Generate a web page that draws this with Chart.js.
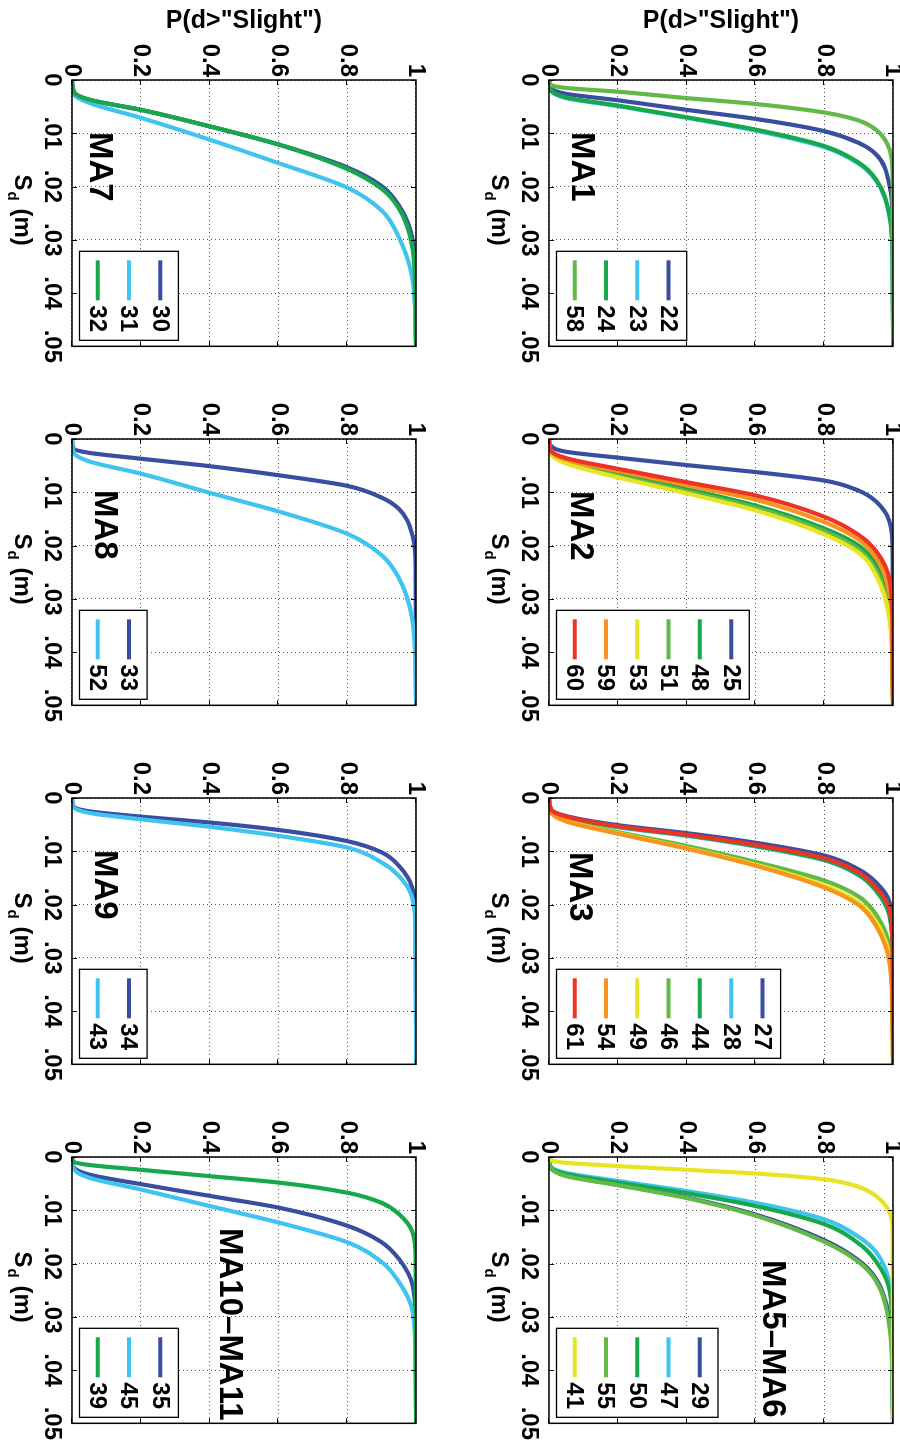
<!DOCTYPE html>
<html>
<head>
<meta charset="utf-8">
<script src="https://cdn.jsdelivr.net/npm/chart.js@4.4.1/dist/chart.umd.min.js"></script>
<style>
  html, body { margin: 0; padding: 0; background: #fff; }
  body { width: 900px; height: 1446px; overflow: hidden; position: relative; }
  /* the figure is drawn upright (1446x900) and turned a quarter clockwise */
  #figure { position: absolute; left: 0; top: 0; width: 1446px; height: 900px;
            transform-origin: 0 0; transform: translate(900px, 0) rotate(90deg); }
  #figure canvas { position: absolute; }
</style>
</head>
<body>
<div id="figure"></div>
<script>
// probability levels, and for every curve the Sd (m) where it reaches them
const pLevels = [0, 0.005, 0.05, 0.2, 0.4, 0.6, 0.8, 0.9, 0.95, 0.99, 0.999, 1];

// MA1
const sd22 = [0, .0015, .0026, .0038, .0056, .0073, .0096, .0118, .0139, .0198, .027, .05];
const sd23 = [0, .0019, .0034, .0049, .0071, .0095, .0126, .0157, .0188, .0257, .0345, .05];
const sd24 = [0, .0019, .0033, .0048, .0070, .0093, .0124, .0155, .0186, .0254, .034, .05];
const sd58 = [0, .0009, .0015, .0022, .0034, .0045, .0061, .0076, .0093, .0130, .018, .05];
// MA2
const sd25 = [0, .0012, .0024, .0035, .0049, .0062, .0078, .0097, .0117, .0155, .021, .05];
const sd48 = [0, .0025, .0043, .0066, .0094, .0125, .0168, .0200, .0235, .032, .042, .05];
const sd51 = [0, .0026, .0045, .0069, .0098, .0129, .0173, .0207, .0245, .033, .044, .05];
const sd53 = [0, .0027, .0046, .0072, .0102, .0134, .0179, .0213, .0255, .034, .046, .05];
const sd59 = [0, .0023, .0039, .0060, .0087, .0114, .0156, .0189, .0222, .029, .038, .05];
const sd60 = [0, .0021, .0036, .0056, .0081, .0106, .0146, .0180, .0210, .0265, .036, .05];
// MA3
const sd27 = [0, .0021, .0034, .0051, .0066, .0084, .0108, .0134, .0158, .0195, .027, .05];
const sd28 = [0, .0022, .0036, .0055, .0071, .0091, .0117, .0145, .0174, .0222, .030, .05];
const sd44 = [0, .0022, .0036, .0054, .0070, .0090, .0116, .0144, .0173, .0220, .030, .05];
const sd46 = [0, .0025, .0042, .0064, .0090, .0120, .0155, .0185, .0218, .028, .038, .05];
const sd49 = [0, .0026, .0043, .0066, .0094, .0125, .0164, .0196, .0231, .030, .040, .05];
const sd54 = [0, .0026, .0044, .0067, .0095, .0127, .0168, .0201, .0239, .031, .042, .05];
const sd61 = [0, .0021, .0035, .0053, .0069, .0088, .0113, .0140, .0167, .0210, .029, .05];
// MA5-MA6
const sd29 = [0, .0020, .0035, .0052, .0076, .0108, .0156, .0194, .0228, .031, .042, .05];
const sd47 = [0, .0018, .0030, .0045, .0064, .0086, .0117, .0150, .0178, .0235, .031, .05];
const sd50 = [0, .0019, .0032, .0048, .0068, .0092, .0126, .0162, .0195, .025, .034, .05];
const sd55 = [0, .0020, .0036, .0053, .0077, .0110, .0159, .0197, .0232, .032, .043, .05];
const sd41 = [0, .0006, .0011, .0017, .0024, .0031, .0042, .0056, .0073, .0104, .014, .05];
// MA7
const sd30 = [0, .0022, .0037, .0056, .0087, .0121, .0164, .0199, .0235, .030, .040, .05];
const sd31 = [0, .0027, .0043, .0071, .0112, .0156, .0202, .0245, .0295, .0375, .048, .05];
const sd32 = [0, .0022, .0037, .0056, .0087, .0121, .0167, .0204, .0241, .0316, .042, .05];
// MA8
const sd33 = [0, .0018, .0026, .0037, .0051, .0068, .0088, .0110, .0131, .0181, .024, .05];
const sd52 = [0, .0026, .0042, .0065, .0101, .0136, .0178, .0218, .0261, .0342, .045, .05];
// MA9
const sd34 = [0, .0016, .0025, .0035, .0046, .0060, .0081, .0102, .0127, .0170, .023, .05];
const sd43 = [0, .0017, .0028, .0040, .0054, .0071, .0093, .0121, .0146, .0189, .026, .05];
// MA10-MA11
const sd35 = [0, .0019, .0033, .0051, .0073, .0095, .0129, .0160, .0191, .0240, .032, .05];
const sd45 = [0, .0022, .0039, .0061, .0092, .0123, .0160, .0197, .0234, .0290, .039, .05];
const sd39 = [0, .0009, .0015, .0024, .0036, .0048, .0067, .0086, .0107, .0141, .019, .05];

const panelNames = ['MA1', 'MA2', 'MA3', 'MA5\u2013MA6', 'MA7', 'MA8', 'MA9', 'MA10\u2013MA11'];
const panelLabels = [
  ['22', '23', '24', '58'],
  ['25', '48', '51', '53', '59', '60'],
  ['27', '28', '44', '46', '49', '54', '61'],
  ['29', '47', '50', '55', '41'],
  ['30', '31', '32'],
  ['33', '52'],
  ['34', '43'],
  ['35', '45', '39']
];
const panelData = [
  [sd22, sd23, sd24, sd58],
  [sd25, sd48, sd51, sd53, sd59, sd60],
  [sd27, sd28, sd44, sd46, sd49, sd54, sd61],
  [sd29, sd47, sd50, sd55, sd41],
  [sd30, sd31, sd32],
  [sd33, sd52],
  [sd34, sd43],
  [sd35, sd45, sd39]
];
const xTickLabels = ['0', '.01', '.02', '.03', '.04', '.05'];
const yTickLabels = ['0', '0.2', '0.4', '0.6', '0.8', '1'];
const yTitle = 'P(d>"Slight")';

// styles
const colors = { blue: '#3a4ea0', cyan: '#3fc3ef', green: '#17a84c', lgreen: '#63b947',
                 yellow: '#e7e424', orange: '#f7941e', red: '#ee3224' };
const panelColors = [
  ['blue', 'cyan', 'green', 'lgreen'],
  ['blue', 'green', 'lgreen', 'yellow', 'orange', 'red'],
  ['blue', 'cyan', 'green', 'lgreen', 'yellow', 'orange', 'red'],
  ['blue', 'cyan', 'green', 'lgreen', 'yellow'],
  ['blue', 'cyan', 'green'],
  ['blue', 'cyan'],
  ['blue', 'cyan'],
  ['blue', 'cyan', 'green']
];
const FONT = '"Liberation Sans", Arial, Helvetica, sans-serif';
const plotLeft = [80, 439, 798, 1157], plotTop = [7, 484], plotW = 269, plotH = 344;
const labelPos = [[52, 321], [52, 322], [54, 323], [103, 130], [52, 326], [51, 321], [52, 321], [71, 196]];

Chart.defaults.font.family = FONT;
Chart.defaults.color = '#000';

function framePlugin(name, pos) {
  return {
    id: 'frame',
    afterDatasetsDraw(chart) {
      const ctx = chart.ctx, a = chart.chartArea;
      const xs = chart.scales.x, ys = chart.scales.y;
      ctx.save();
      ctx.strokeStyle = '#000';
      ctx.lineWidth = 1;
      ctx.beginPath();
      xs.ticks.forEach(t => {
        const px = Math.round(xs.getPixelForValue(t.value)) + 0.5;
        ctx.moveTo(px, a.bottom); ctx.lineTo(px, a.bottom - 5);
        ctx.moveTo(px, a.top); ctx.lineTo(px, a.top + 5);
      });
      ys.ticks.forEach(t => {
        const py = Math.round(ys.getPixelForValue(t.value)) + 0.5;
        ctx.moveTo(a.left, py); ctx.lineTo(a.left + 5, py);
        ctx.moveTo(a.right, py); ctx.lineTo(a.right - 5, py);
      });
      ctx.stroke();
      ctx.lineWidth = 1.5;
      ctx.strokeRect(a.left, a.top, a.right - a.left, a.bottom - a.top);

      // panel name
      ctx.fillStyle = '#000';
      ctx.font = 'bold 33px ' + FONT;
      ctx.textAlign = 'left';
      ctx.textBaseline = 'alphabetic';
      ctx.fillText(name, a.left + pos[0], a.top + pos[1]);

      // legend box in the lower right corner
      const sets = chart.data.datasets;
      const rowH = 31.3, lw = 89, lh = sets.length * rowH + 5;
      const lx = a.right - 6 - lw, ly = a.bottom - 7.5 - lh;
      ctx.fillStyle = '#fff';
      ctx.fillRect(lx, ly, lw, lh);
      ctx.lineWidth = 1.3;
      ctx.strokeRect(lx, ly, lw, lh);
      ctx.font = 'bold 24px ' + FONT;
      ctx.textBaseline = 'middle';
      sets.forEach((ds, k) => {
        const cy = ly + 2.5 + rowH * (k + 0.5);
        ctx.strokeStyle = ds.borderColor;
        ctx.lineWidth = 4;
        ctx.beginPath();
        ctx.moveTo(lx + 9, cy); ctx.lineTo(lx + 49, cy);
        ctx.stroke();
        ctx.fillStyle = '#000';
        ctx.fillText(ds.label, lx + 54, cy + 1);
      });

      // x title with subscript: S_d (m)
      const base = a.bottom + 57;
      ctx.textBaseline = 'alphabetic';
      ctx.font = 'bold 24px ' + FONT;
      const wS = ctx.measureText('S').width, wM = ctx.measureText(' (m)').width;
      ctx.font = 'bold 15px ' + FONT;
      const wD = ctx.measureText('d').width;
      let x0 = (a.left + a.right) / 2 - 3 - (wS + wD + 2 + wM) / 2;
      ctx.font = 'bold 24px ' + FONT;
      ctx.fillText('S', x0, base);
      ctx.font = 'bold 15px ' + FONT;
      ctx.fillText('d', x0 + wS + 1, base + 7);
      ctx.font = 'bold 24px ' + FONT;
      ctx.fillText(' (m)', x0 + wS + wD + 2, base);
      ctx.restore();
    }
  };
}

const fig = document.getElementById('figure');

panelNames.forEach((name, i) => {
  const row = Math.floor(i / 4), col = i % 4;
  const canvas = document.createElement('canvas');
  canvas.width = 80 + plotW + 20;
  canvas.height = 30 + plotH + 60 + 6;
  canvas.style.left = (plotLeft[col] - 80) + 'px';
  canvas.style.top = (plotTop[row] - 30) + 'px';
  fig.appendChild(canvas);

  const n = panelData[i].length;
  const datasets = panelData[i].map((sd, k) => ({
    label: panelLabels[i][k],
    data: sd.map((x, j) => ({ x: x, y: pLevels[j] })),
    borderColor: colors[panelColors[i][k]],
    borderWidth: 4.2,
    pointRadius: 0,
    fill: false,
    cubicInterpolationMode: 'monotone',
    borderJoinStyle: 'round',
    borderCapStyle: 'round',
    order: n - k
  }));

  new Chart(canvas, {
    type: 'line',
    data: { datasets: datasets },
    options: {
      responsive: false,
      animation: false,
      devicePixelRatio: 1,
      layout: { padding: { top: 30, left: 0, right: 20, bottom: 6 } },
      plugins: { legend: { display: false }, tooltip: { enabled: false } },
      scales: {
        x: {
          type: 'linear', min: 0, max: 0.05,
          ticks: { stepSize: 0.01, padding: 6, maxRotation: 0, autoSkip: false,
                   font: { size: 24, weight: 'bold' },
                   callback: (v, idx) => xTickLabels[idx] },
          grid: { color: '#555', lineWidth: 1, drawTicks: false },
          border: { display: false, dash: [1, 3] },
          afterFit: s => { s.height = 60; }
        },
        y: {
          min: 0, max: 1,
          ticks: { stepSize: 0.2, padding: 3,
                   font: { size: 24, weight: 'bold' },
                   callback: (v, idx) => yTickLabels[idx] },
          grid: { color: '#555', lineWidth: 1, drawTicks: false },
          border: { display: false, dash: [1, 3] },
          title: { display: col === 0, text: yTitle, padding: { top: 6, bottom: 0 },
                   font: { size: 25, weight: 'bold' } },
          afterFit: s => { s.width = 80; }
        }
      }
    },
    plugins: [framePlugin(name, labelPos[i])]
  });
});
</script>
</body>
</html>
